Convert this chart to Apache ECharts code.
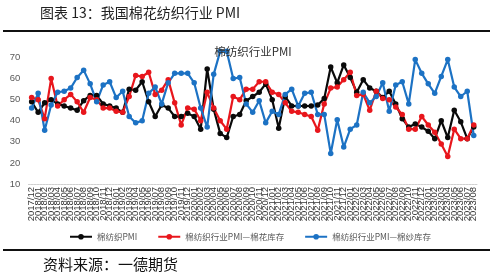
<!DOCTYPE html>
<html><head><meta charset="utf-8">
<script src="https://cdn.jsdelivr.net/npm/echarts@6/dist/echarts.min.js"></script>
<style>html,body{margin:0;padding:0;background:#fff}#c{width:500px;height:277px}</style>
</head><body><div id="c"></div>
<script>
// categories: monthly 2017/12 .. 2023/08
const categories = [];
for (let y = 2017, m = 12; categories.length < 69; ) {
  categories.push(y + '/' + (m < 10 ? '0' + m : m));
  m++; if (m > 12) { m = 1; y++; }
}
const pmi = [49,44,48.5,50,48,47,46,45,49.5,52,52,48,47,46,44,55,54.5,58.5,49,42,47.5,46,42,42,43.5,42,36,64.5,45.5,34,32,42,43,49.5,51.5,53.5,57.5,50,36.5,51.5,47,47,47,47,47.5,50.5,65.5,58,66.5,60.5,53.5,59.5,55.5,54,51,54,48,41,37,38.5,37,35,31.5,40,32,45,39.5,31.5,37];
const cottonStock = [51,50,41,60,47,50,52.5,49,44,51,50,46,46,44.5,44,51.5,61.5,61,63,52.5,54.5,59.5,48.5,38,46,45.5,40,53.5,46,40,36,51.5,50,55,55,58.5,58.5,53.5,52.5,48.5,44.5,44,43,42,35.5,48,55.5,56,59.5,63,52,52.5,45,54,50.5,50,46.5,43,36,36,42,38,34.5,29,23,36,31.5,31.5,38];
const yarnStock = [46,53,35.5,47.5,53.5,54,55.5,60.5,64,57.5,49,57,58.5,51,54,42,39,40,53,56,48,58,62.5,62.5,62.5,58,46,37,62,73,73,60,60.5,48,44,49.5,39,44.5,43,52.5,55,47,53,53.5,43,43,24.5,40.5,27.5,36,38,53.5,48.5,51.5,58,44.5,57,58.5,48,69,62.5,57.5,53,61,69,56,51.5,54,33];
const seriesNames = ['棉纺织PMI','棉纺织行业PMI—棉花库存','棉纺织行业PMI—棉纱库存'];
const yTicks = [10,70,10]; // min, max, interval

const chart = echarts.init(document.getElementById('c'));
const mk = (name, data, color) => ({
  name, type: 'line', data, clip: false,
  symbol: 'circle', symbolSize: 5.5,
  lineStyle: { color, width: 2.2 }, itemStyle: { color },
});
chart.setOption({
  animation: false,
  title: { text: '棉纺织行业PMI', left: 248, top: 41, textAlign: 'center',
    textStyle: { fontSize: 11.5, fontWeight: 'normal', color: '#333', fontFamily: 'Noto Sans CJK SC' } },
  grid: { left: 28.4, right: 23, top: 57.5, bottom: 93 },
  legend: { bottom: 31, left: 'center', itemWidth: 22, itemHeight: 7, itemGap: 20,
    textStyle: { fontSize: 8.5, color: '#595959', fontFamily: 'Noto Sans CJK SC' },
    data: seriesNames },
  xAxis: { type: 'category', data: categories, boundaryGap: true,
    axisLine: { lineStyle: { color: '#d0d0d0', type: [2, 1] } },
    axisTick: { show: false },
    axisLabel: { interval: 0, rotate: 90, fontSize: 9.5, color: '#333', margin: 3,
      fontFamily: 'Liberation Sans' } },
  yAxis: { type: 'value', min: yTicks[0], max: yTicks[1], interval: yTicks[2],
    splitLine: { show: false }, axisLine: { show: false }, axisTick: { show: false },
    axisLabel: { fontSize: 9.5, color: '#595959', margin: 8, fontFamily: 'Liberation Sans' } },
  series: [mk(seriesNames[0], pmi, '#0a0a0a'), mk(seriesNames[1], cottonStock, '#e8161c'), mk(seriesNames[2], yarnStock, '#1c72c4')],
  graphic: [
    { type: 'text', left: 40, top: 6, style: { text: '图表 13：我国棉花纺织行业 PMI', fontSize: 14, fill: '#222', fontFamily: 'Noto Sans CJK SC' } },
    { type: 'line', shape: { x1: 3, y1: 31, x2: 490, y2: 31 }, style: { stroke: '#111', lineWidth: 2 } },
    { type: 'line', shape: { x1: 3, y1: 250, x2: 490, y2: 250 }, style: { stroke: '#111', lineWidth: 2 } },
    { type: 'text', left: 43, top: 257, style: { text: '资料来源：一德期货', fontSize: 15, fill: '#111', fontFamily: 'Noto Sans CJK SC' } }
  ]
});
</script></body></html>
